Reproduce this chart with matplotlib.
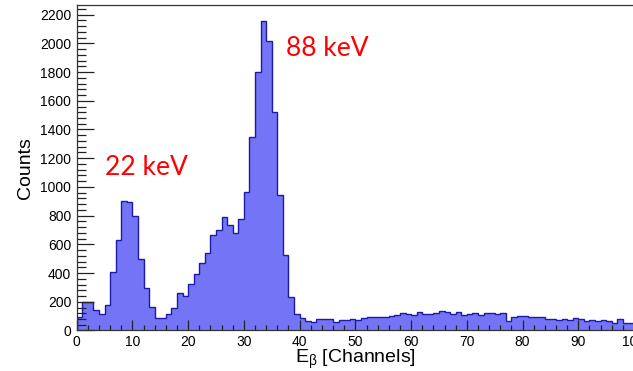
import numpy as np
import matplotlib
matplotlib.use("Agg")
import matplotlib.pyplot as plt
from matplotlib.ticker import MultipleLocator

plt.rcParams['font.family'] = ['Liberation Sans', 'DejaVu Sans']
plt.rcParams['mathtext.fontset'] = 'custom'
plt.rcParams['mathtext.rm'] = 'Liberation Sans'
plt.rcParams['mathtext.it'] = 'Liberation Sans:italic'

# beta energy spectrum, one count per channel bin (0..99)
counts = [95, 201, 201, 143, 115, 180, 410, 631, 903, 894,
          799, 496, 294, 164, 90, 85, 115, 157, 259, 243,
          324, 391, 471, 538, 663, 701, 787, 734, 682, 775,
          968, 1350, 1801, 2157, 2015, 1524, 943, 524, 236, 115,
          85, 68, 59, 82, 77, 77, 59, 71, 73, 77,
          73, 87, 97, 92, 92, 92, 101, 108, 120, 113,
          110, 131, 115, 115, 124, 134, 129, 115, 131, 105,
          113, 120, 110, 120, 120, 115, 120, 68, 92, 101,
          101, 97, 92, 92, 77, 82, 73, 82, 73, 87,
          77, 68, 73, 68, 73, 64, 55, 80, 55, 55]
edges = np.arange(0, 101)

peak_labels = ["22 keV", "88 keV"]
peak_pos = [(5.0, 1080), (37.6, 1915)]

fig = plt.figure(figsize=(6.33, 3.71), dpi=100)
ax = fig.add_axes([0.1212, 0.1092, 0.8804, 0.8765])

ax.stairs(counts, edges, fill=True, facecolor='#7474f6', edgecolor='none')
ax.stairs(counts, edges, fill=False, color='#1c1ca8', linewidth=1.0)

ax.set_xlim(0, 100)
ax.set_ylim(0, max(counts) * 1.05)

ax.xaxis.set_major_locator(MultipleLocator(10))
ax.xaxis.set_minor_locator(MultipleLocator(2))
ax.yaxis.set_major_locator(MultipleLocator(200))
ax.yaxis.set_minor_locator(MultipleLocator(40))

ax.tick_params(axis='both', which='both', direction='in', top=False, right=False,
               labelsize=10, width=0.9, color='#222222')
ax.tick_params(axis='y', which='major', length=12, pad=4)
ax.tick_params(axis='y', which='minor', length=6.5)
ax.tick_params(axis='x', which='major', length=7, pad=3)
ax.tick_params(axis='x', which='minor', length=3.6)

for s in ax.spines.values():
    s.set_linewidth(0.9)
    s.set_color('#333333')

ax.set_xlabel(r'$\mathregular{E_\beta}$ [Channels]', fontsize=14, labelpad=-0.5)
ax.set_ylabel('Counts', fontsize=14, labelpad=4)

for txt, (x, y) in zip(peak_labels, peak_pos):
    ax.text(x, y, txt, color='#ff0000', fontsize=19, family=['Lato', 'DejaVu Sans'],
            ha='left', va='baseline')

fig.savefig("out.png", dpi=100)
